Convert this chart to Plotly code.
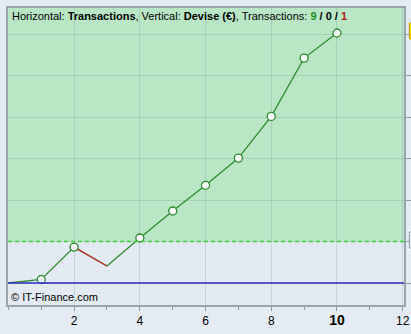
import plotly.graph_objects as go

# Data
trades = [0, 1, 2, 3, 4, 5, 6, 7, 8, 9, 10]
equity = [0, 85, 865, 410, 1085, 1735, 2355, 3010, 4015, 5420, 6025]
win_marker = [False, True, True, False, True, True, True, True, True, True, True]
loss_segment = (2, 3)
start_capital = 1000
x_tickvals = [2, 4, 6, 8, 10, 12]
x_ticktext = ["2", "4", "6", "8", "<b><span style='font-size:14px'>10</span></b>", "12"]

GREEN = "#2e8b2e"
RED = "#c83232"

fig = go.Figure()

# equity line (green)
fig.add_trace(go.Scatter(x=trades, y=equity, mode="lines",
                         line=dict(color=GREEN, width=1.3), hoverinfo="skip"))
# losing segment (red)
a, b = loss_segment
fig.add_trace(go.Scatter(x=trades[a:b + 1], y=equity[a:b + 1], mode="lines",
                         line=dict(color=RED, width=1.3), hoverinfo="skip"))
# markers on winning trades
mx = [t for t, w in zip(trades, win_marker) if w]
my = [e for e, w in zip(equity, win_marker) if w]
fig.add_trace(go.Scatter(x=mx, y=my, mode="markers",
                         marker=dict(symbol="circle", size=8, color="white",
                                     line=dict(color=GREEN, width=1.3)),
                         hoverinfo="skip"))

shapes = [
    # green zone above start capital
    dict(type="rect", xref="paper", yref="y", x0=0, x1=1, y0=start_capital, y1=9000,
         fillcolor="#b9e6c5", line=dict(width=0), layer="below"),
    # dashed start-capital line
    dict(type="line", xref="paper", yref="y", x0=0, x1=1, y0=start_capital, y1=start_capital,
         line=dict(color="#3ccf3c", width=1.5, dash="4px,3px")),
    # zero line
    dict(type="line", xref="paper", yref="y", x0=0, x1=1, y0=0, y1=0,
         line=dict(color="#2a2ac0", width=1.3)),
    # right side value markers (cut off)
    dict(type="rect", xref="paper", yref="y", x0=1.0135, x1=1.05, y0=5880, y1=6265,
         fillcolor="#ffd700", line=dict(color="#c89a00", width=1)),
    dict(type="rect", xref="paper", yref="y", x0=1.0135, x1=1.05, y0=843, y1=1229,
         fillcolor="#e6edf3", line=dict(color="#8d9ca8", width=1)),
]

fig.update_layout(
    width=411, height=334,
    margin=dict(l=8, r=7, t=8, b=29, autoexpand=False),
    paper_bgcolor="#e4ebf2",
    plot_bgcolor="#e3eaf1",
    showlegend=False,
    shapes=shapes,
    font=dict(family="Liberation Sans, Arial, sans-serif", size=12, color="#000000"),
    annotations=[
        dict(xref="paper", yref="paper", x=0, y=1, xanchor="left", yanchor="top",
             xshift=2, yshift=0, showarrow=False,
             text="Horizontal: <b>Transactions</b>, Vertical: <b>Devise (€)</b>, Transactions: "
                  "<b><span style='color:#1e8c1e'>9</span> / 0 / <span style='color:#b01818'>1</span></b>",
             font=dict(size=11, color="#000000")),
        dict(xref="paper", yref="paper", x=0, y=0, xanchor="left", yanchor="bottom",
             xshift=1, yshift=0, showarrow=False, text="© IT-Finance.com",
             font=dict(size=11, color="#000000")),
    ],
)

fig.update_xaxes(
    range=[-0.012, 12.04], tickvals=x_tickvals, ticktext=x_ticktext,
    ticks="outside", ticklen=4, tickcolor="#8d9ca8", automargin=False,
    showgrid=True, gridcolor="rgba(90,110,120,0.18)", gridwidth=1,
    minor=dict(dtick=1, tick0=0, ticks="outside", ticklen=3, tickcolor="#8d9ca8", showgrid=False),
    showline=True, mirror=True, linecolor="#95a4ae", linewidth=2,
    zeroline=False, tickfont=dict(size=12, color="#000000"),
)
fig.update_yaxes(
    range=[-530, 6627], side="right", dtick=1000, tick0=0, automargin=False,
    ticks="outside", ticklen=5, tickcolor="#8d9ca8", showticklabels=False,
    showgrid=True, gridcolor="rgba(90,110,120,0.18)", gridwidth=1,
    showline=True, mirror=True, linecolor="#95a4ae", linewidth=2,
    zeroline=False,
)

fig.write_html("out.html")
